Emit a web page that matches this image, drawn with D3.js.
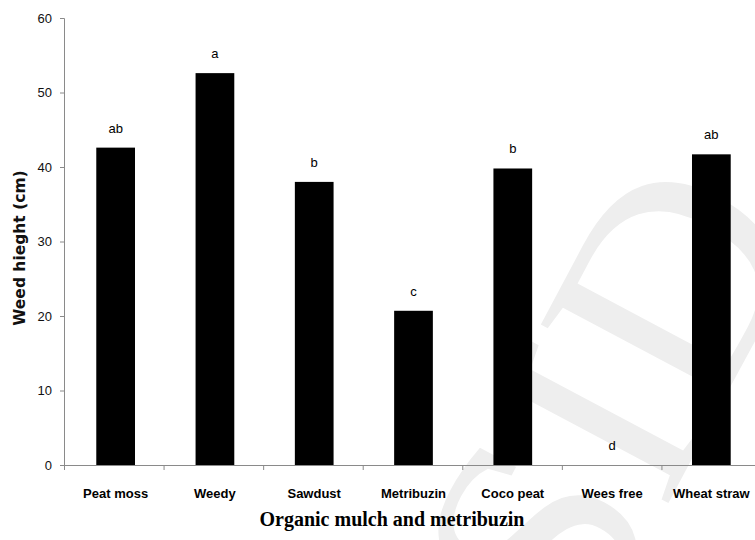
<!DOCTYPE html>
<html>
<head>
<meta charset="utf-8">
<script src="https://cdn.jsdelivr.net/npm/d3@7"></script>
<style>
  body { margin: 0; background: #fff; }
  svg { display: block; }
  .tick text { font-family: "Liberation Sans", Arial, sans-serif; }
</style>
</head>
<body>
<div id="chart"></div>
<script>
// data
var treatments = ['Peat moss', 'Weedy', 'Sawdust', 'Metribuzin', 'Coco peat', 'Wees free', 'Wheat straw'];
var heights = [42.6, 52.6, 38.0, 20.7, 39.8, 0, 41.7];
var letters = ['ab', 'a', 'b', 'c', 'b', 'd', 'ab'];
var y_ticks = [0, 10, 20, 30, 40, 50, 60];

var width = 755, height = 540;
var margin = { top: 18, left: 64, bottom: 75 };

var svg = d3.select('#chart').append('svg')
    .attr('width', width)
    .attr('height', height);

// faint watermark in the lower right
svg.append('text')
    .attr('transform', 'translate(585,660) rotate(-62)')
    .attr('font-family', 'Liberation Serif, serif')
    .attr('font-size', 300)
    .attr('fill', '#eeeeee')
    .text('SID');

var x = d3.scaleBand()
    .domain(treatments)
    .range([66, 761])
    .paddingInner(0.61)
    .paddingOuter(0.305);

var y = d3.scaleLinear()
    .domain([0, 60])
    .range([height - margin.bottom, margin.top]);

// y axis
var yAxis = svg.append('g')
    .attr('transform', `translate(${margin.left},0)`)
    .call(d3.axisLeft(y).tickValues(y_ticks).tickSize(4).tickPadding(8));
yAxis.selectAll('path, line').attr('stroke', '#8a8a8a');
yAxis.selectAll('text')
    .attr('font-size', 13)
    .attr('fill', '#111');

// x axis: ticks sit between the categories
var x_edges = d3.scaleLinear().domain([0, treatments.length]).range([margin.left, 761]);
var xAxis = svg.append('g')
    .attr('transform', `translate(0,${y(0)})`)
    .call(d3.axisBottom(x_edges).ticks(7).tickSize(5).tickFormat(''));
xAxis.selectAll('path, line').attr('stroke', '#8a8a8a');

svg.selectAll('.cat')
    .data(treatments)
    .enter()
    .append('text')
    .attr('class', 'cat')
    .attr('x', d => x(d) + x.bandwidth() / 2)
    .attr('y', y(0) + 33)
    .attr('text-anchor', 'middle')
    .attr('font-family', 'Liberation Sans, Arial, sans-serif')
    .attr('font-weight', 'bold')
    .attr('font-size', 13)
    .attr('fill', '#000')
    .text(d => d);

// bars
svg.selectAll('.bar')
    .data(heights)
    .enter()
    .append('rect')
    .attr('class', 'bar')
    .attr('x', (d, i) => x(treatments[i]))
    .attr('y', d => y(d))
    .attr('width', x.bandwidth())
    .attr('height', d => y(0) - y(d))
    .attr('fill', '#000');

// letter groups above the bars
svg.selectAll('.letter')
    .data(letters)
    .enter()
    .append('text')
    .attr('class', 'letter')
    .attr('x', (d, i) => x(treatments[i]) + x.bandwidth() / 2)
    .attr('y', (d, i) => y(heights[i]) - 15)
    .attr('text-anchor', 'middle')
    .attr('font-family', 'Liberation Sans, Arial, sans-serif')
    .attr('font-size', 13)
    .attr('fill', '#000')
    .text(d => d);

// axis titles
svg.append('text')
    .attr('transform', `translate(25,248) rotate(-90)`)
    .attr('text-anchor', 'middle')
    .attr('font-family', 'DejaVu Sans, sans-serif')
    .attr('font-weight', 'bold')
    .attr('font-size', 15.5)
    .attr('fill', '#111')
    .text('Weed hieght (cm)');

svg.append('text')
    .attr('x', 392)
    .attr('y', 526)
    .attr('text-anchor', 'middle')
    .attr('font-family', 'Liberation Serif, Times New Roman, serif')
    .attr('font-weight', 'bold')
    .attr('font-size', 20)
    .attr('fill', '#000')
    .text('Organic mulch and metribuzin');
</script>
</body>
</html>
